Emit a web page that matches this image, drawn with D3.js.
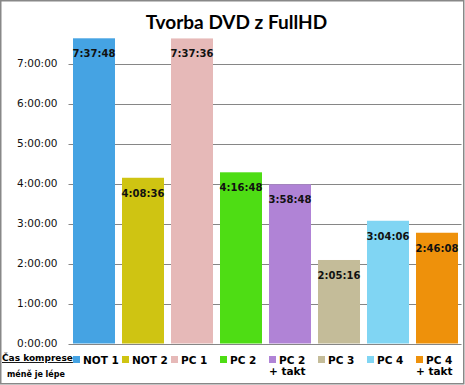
<!DOCTYPE html>
<html><head><meta charset="utf-8">
<script src="https://cdn.jsdelivr.net/npm/d3@7/dist/d3.min.js"></script>
<style>html,body{margin:0;padding:0;background:#fff;}svg{display:block;}</style>
</head><body>
<script>
const categories = ["NOT 1","NOT 2","PC 1","PC 2","PC 2 + takt","PC 3","PC 4","PC 4 + takt"];
const legendLines = [["NOT 1"],["NOT 2"],["PC 1"],["PC 2"],["PC 2","+ takt"],["PC 3"],["PC 4"],["PC 4","+ takt"]];
const valueLabels = ["7:37:48","4:08:36","7:37:36","4:16:48","3:58:48","2:05:16","3:04:06","2:46:08"];
const colors = ["#45A3E3","#CFC412","#E6B9B8","#4EDD14","#B083D6","#C4BC99","#80D5F3","#EE910B"];
const tickHours = [0,1,2,3,4,5,6,7];
const title = "Tvorba DVD z FullHD";

const toSec = s => { const [h,m,x] = s.split(":").map(Number); return h*3600+m*60+x; };
const values = valueLabels.map(toSec);

const W = 465, H = 385;
const svg = d3.select("body").append("svg").attr("width", W).attr("height", H);

svg.append("rect").attr("x",0.75).attr("y",0.75).attr("width",463).attr("height",383)
  .attr("fill","#fff").attr("stroke","#888").attr("stroke-width",1.5);

const x = d3.scaleBand().domain(categories).range([69.5, 461.5]).paddingInner(7/49).paddingOuter(3.5/49);
const y = d3.scaleLinear().domain([0, 8*3600]).range([343.5, 23.5]);

const fmt = s => { const h=Math.floor(s/3600), m=Math.floor(s%3600/60), z=s%60; return h+":"+String(m).padStart(2,"0")+":"+String(z).padStart(2,"0"); };

// gridlines + y axis
const yAxis = d3.axisLeft(y).tickValues(tickHours.map(h=>h*3600)).tickFormat(fmt).tickSize(0).tickPadding(12);
const ga = svg.append("g").attr("transform","translate(69.5,0)").call(yAxis);
ga.select(".domain").remove();
ga.selectAll("text").attr("font-family","DejaVu Sans").attr("font-size","10.5px").attr("fill","#111");
svg.append("g").selectAll("line").data(tickHours).join("line")
  .attr("x1",68.5).attr("x2",461.5)
  .attr("y1",d=>Math.round(y(d*3600))+0.5).attr("y2",d=>Math.round(y(d*3600))+0.5)
  .attr("stroke","#868686").attr("stroke-width",1);

// bars
svg.append("g").selectAll("rect").data(categories).join("rect")
  .attr("x",d=>x(d)).attr("width",x.bandwidth())
  .attr("y",(d,i)=>y(values[i])).attr("height",(d,i)=>y(0)-y(values[i]))
  .attr("fill",(d,i)=>colors[i]);

// data labels
svg.append("g").selectAll("text").data(categories).join("text")
  .attr("x",d=>x(d)+x.bandwidth()/2).attr("y",(d,i)=>y(values[i])+19)
  .attr("text-anchor","middle").attr("font-family","DejaVu Sans").attr("font-weight","bold")
  .attr("font-size","10px").attr("fill","#111").text((d,i)=>valueLabels[i]);

// title
svg.append("text").attr("x",236.5).attr("y",29).attr("text-anchor","middle")
  .attr("font-family","Lato").attr("font-weight","bold").attr("font-size","19px").attr("fill","#000").text(title);

// legend
const lg = svg.append("g");
categories.forEach((c,i)=>{
  const lx = x(c);
  lg.append("rect").attr("x",lx).attr("y",356).attr("width",7).attr("height",7).attr("fill",colors[i]);
  legendLines[i].forEach((t,j)=>{
    lg.append("text").attr("x", j===0 ? lx+10 : lx).attr("y",364+j*11)
      .attr("font-family","DejaVu Sans").attr("font-weight","bold").attr("font-size","10.5px")
      .attr("fill","#000").text(t);
  });
});
svg.append("text").attr("x",2).attr("y",361).attr("font-family","DejaVu Sans").attr("font-weight","bold")
  .attr("font-size","9px").attr("fill","#000").attr("text-decoration","underline").text("Čas komprese");
svg.append("text").attr("x",7).attr("y",377).attr("font-family","DejaVu Sans").attr("font-weight","bold")
  .attr("font-size","8px").attr("fill","#000").text("méně je lépe");
</script>
</body></html>
